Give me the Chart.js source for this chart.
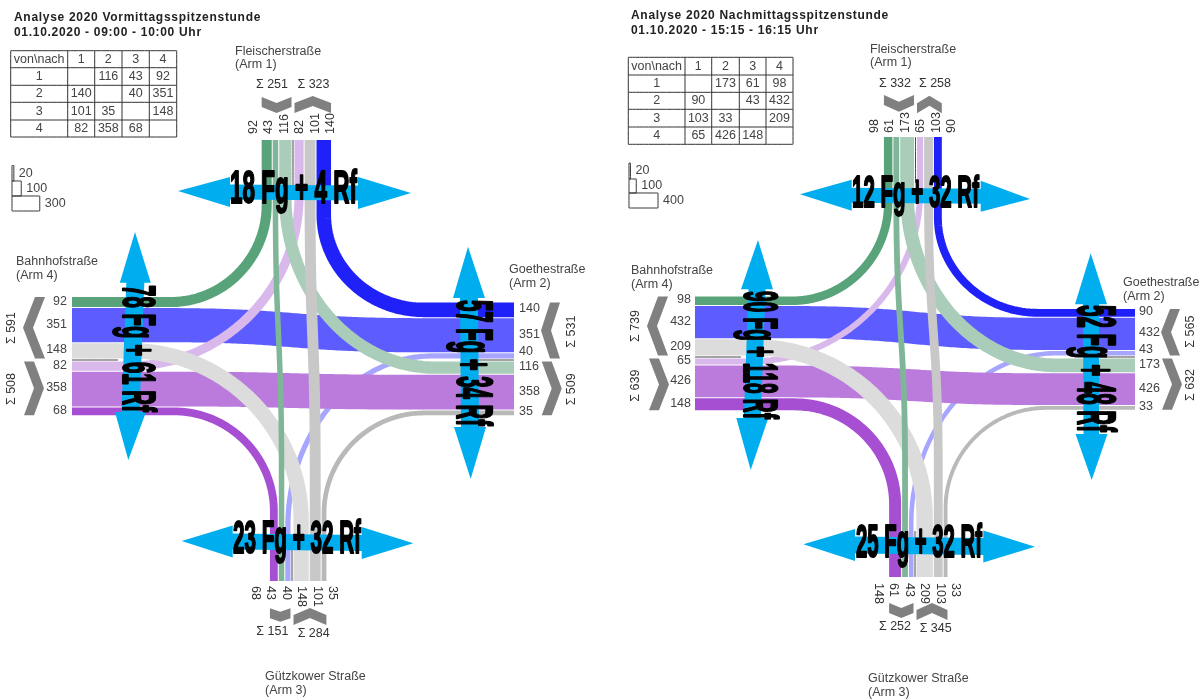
<!DOCTYPE html>
<html>
<head>
<meta charset="utf-8">
<style>
  html, body { margin: 0; padding: 0; background: #fff; }
  canvas { display: block; }
</style>
<script src="https://cdn.jsdelivr.net/npm/chart.js@4"></script>
</head>
<body>
<canvas id="myChart" width="1203" height="699"></canvas>
<script>
// von\nach values, one row per arm
const amFrom1 = [null, 116, 43, 92];
const amFrom2 = [140, null, 40, 351];
const amFrom3 = [101, 35, null, 148];
const amFrom4 = [82, 358, 68, null];
const pmFrom1 = [null, 173, 61, 98];
const pmFrom2 = [90, null, 43, 432];
const pmFrom3 = [103, 33, null, 209];
const pmFrom4 = [65, 426, 148, null];

const armNames = ['Fleischerstraße', 'Goethestraße', 'Gützkower Straße', 'Bahnhofstraße'];
const tableHead = ['von\\nach', '1', '2', '3', '4'];
const amLegend = [20, 100, 300];
const pmLegend = [20, 100, 400];
// crossing counts: arm 1, arm 2, arm 3, arm 4
const amCrossing = ['18 Fg + 4 Rf', '57 Fg + 34 Rf', '23 Fg + 32 Rf', '78 Fg + 61 Rf'];
const pmCrossing = ['12 Fg + 32 Rf', '52 Fg + 48 Rf', '25 Fg + 32 Rf', '90 Fg + 118 Rf'];

// order of the streams on each arm, [from, to], two groups either side of the divider
const armOrder = {
  1: [[[1,4],[1,3],[1,2]], [[4,1],[3,1],[2,1]]],
  2: [[[2,1],[2,4],[2,3]], [[1,2],[4,2],[3,2]]],
  3: [[[4,3],[1,3],[2,3]], [[3,4],[3,1],[3,2]]],
  4: [[[1,4],[2,4],[3,4]], [[4,1],[4,2],[4,3]]]
};
const flowColors = {
  '1-4':'#58a379', '1-3':'#80b698', '1-2':'#a9cdb8',
  '4-1':'#d9b8ec', '3-1':'#c8c8c8', '2-1':'#2020f8',
  '2-4':'#5c5cff', '2-3':'#a6a6ff', '3-4':'#dcdcdc',
  '3-2':'#b9b9b9', '4-2':'#bb7bdc', '4-3':'#a64fd3'
};
// back to front
const drawOrder = ['2-3','2-4','4-2','3-2','4-3','4-1','1-4','2-1','1-2','3-4','1-3','3-1'];
// bend length along the horizontal and the vertical leg
const bends = {
  '1-4':[96,97], '4-1':[170,170], '1-2':[150,170], '2-1':[100,95],
  '3-4':[170,170], '4-3':[100,100], '2-3':[145,170], '3-2':[100,100]
};
const GREY = '#808080', CYAN = '#00aeef', INK = '#444444';
const FONT = '12.5px "Liberation Sans"';

const panels = [
  {
    rows: [amFrom1, amFrom2, amFrom3, amFrom4], legend: amLegend, crossing: amCrossing,
    title: ['Analyse 2020 Vormittagsspitzenstunde', '01.10.2020 - 09:00 - 10:00 Uhr'], titleX: 14, titleY: [18, 33],
    edge: {1:140, 2:514, 3:581, 4:72}, sep: {1:293, 2:360, 3:292, 4:360},
    perUnit: 0.093, base: 1.5,
    tableX: [10.7, 67.7, 94.7, 122, 149.3, 176.7], tableY: [50.7, 67.7, 85.3, 102.3, 120, 137],
    legendX: 12, legendY: [165.5, 181, 196, 211], legendUnit: 0.0925,
    chevrons: {1:[[97,6],[103,-7]], 2:[[550,-9],[541.7,10]], 3:[[608.3,3.5],[615,-7]], 4:[[35,-12],[24,10]]},
    labelMid: {1:292, 3:294}, labelEdge: {1:134, 2:519, 3:586, 4:67},
    names: {1:[235,51.5,64.5], 2:[509,270,284], 3:[265,676.5,690.5], 4:[16,262,275.5]},
    sums: {1:[[272,85],[313.5,84.5]], 2:[[571.7,331.7],[571.7,389.3]], 3:[[272.3,631.7],[313.7,633.7]], 4:[[11.7,328],[11.7,389]]},
    arrows: {
      1:[[178,191],[230,192,15],[358,193,16],[411,193],7.5],
      2:[[468,246.7],[469,298,16],[470,427,16],[470.7,479],9],
      3:[[181.7,541],[232.7,541.5,16],[361.7,543,16],[413.3,543.3],8],
      4:[[135,232],[135.3,282.7,15.5],[130.5,412,15.5],[128.3,460],9]
    },
    // start of text, end of text, baseline, cap height
    big: {1:[230,358,203,35], 2:[300,427,457,38], 3:[233,362,553,35], 4:[285,413,123,35]}
  },
  {
    rows: [pmFrom1, pmFrom2, pmFrom3, pmFrom4], legend: pmLegend, crossing: pmCrossing,
    title: ['Analyse 2020 Nachmittagsspitzenstunde', '01.10.2020 - 15:15 - 16:15 Uhr'], titleX: 631, titleY: [16, 31],
    edge: {1:137, 2:1135, 3:577, 4:695}, sep: {1:915.5, 2:357, 3:915, 4:357},
    perUnit: 0.071, base: 1.5,
    tableX: [628.3, 685, 711.7, 739.3, 766, 793], tableY: [57.3, 75, 92.3, 109.3, 127, 144.3],
    legendX: 629, legendY: [163, 179, 193, 208], legendUnit: 0.0725,
    chevrons: {1:[[95,6.7],[103.3,-7.5]], 2:[[1170,-9],[1162,10]], 3:[[603,5],[610,-7]], 4:[[658,-11],[649,10]]},
    labelMid: {1:913, 3:917}, labelEdge: {1:133, 2:1139, 3:583, 4:691},
    names: {1:[870,49.5,63], 2:[1123,283,296.7], 3:[868,679,692.7], 4:[631,271,284.7]},
    sums: {1:[[895,83.7],[935,84]], 2:[[1190.7,331.7],[1190.7,385]], 3:[[895,627],[935.7,629]], 4:[[636,326],[636,385.7]]},
    arrows: {
      1:[[800,194.3],[851.7,195.3,15.5],[980.7,196.3,15.5],[1030,199],7.5],
      2:[[1090.7,253.3],[1091,304.3,16],[1091.5,434,16],[1091.7,480],8],
      3:[[803.3,544.3],[855,545,16],[983.3,546.5,16],[1035,546.7],8.5],
      4:[[758,240],[757,289.3,16],[752.3,418,16],[750.7,470],8.5]
    },
    big: {1:[852,980,206.7,34], 2:[305,433,1078,40], 3:[856,983,557,35], 4:[291,420,744,36]}
  }
];

const datasets = [];
const texts = [];
let seq = 0;

function addLine(points, color, width) {
  // small tension keeps chart.js off its fast path, which only suits lines running left to right
  datasets.push({ data: points, showLine: true, pointRadius: 0, borderColor: color, borderWidth: width,
    borderCapStyle: 'butt', borderJoinStyle: 'round', fill: false, tension: 0.001, clip: false, order: -(seq++) });
}
function addShape(points, color) {
  datasets.push({ data: points, showLine: true, pointRadius: 0, borderWidth: 0, backgroundColor: color,
    fill: 'shape', tension: 0, clip: false, order: -(seq++) });
}
function addText(t, x, y, font, color, align, rot, spacing) {
  texts.push({ t, x, y, font, color, align: align || 'left', rot: rot || 0, spacing: spacing || '0px' });
}
function bezier(p0, p1, p2, p3) {
  const out = [];
  for (let i = 0; i <= 40; i++) {
    const s = i / 40, r = 1 - s;
    out.push({
      x: r*r*r*p0.x + 3*r*r*s*p1.x + 3*r*s*s*p2.x + s*s*s*p3.x,
      y: r*r*r*p0.y + 3*r*r*s*p1.y + 3*r*s*s*p2.y + s*s*s*p3.y
    });
  }
  return out;
}

function drawPanel(p) {
  const value = (a, b) => p.rows[a-1][b-1];
  const width = v => v * p.perUnit + p.base;
  const pos = {}, extent = {};

  // stack the streams outwards from the divider of each arm
  [1,2,3,4].forEach(arm => {
    pos[arm] = {};
    const [groupA, groupB] = armOrder[arm];
    let c = p.sep[arm] - 1.5;
    const endA = c;
    [...groupA].reverse().forEach(f => {
      const w = width(value(f[0], f[1]));
      pos[arm][f.join('-')] = c - w/2;
      c -= w + 1;
    });
    const startA = c + 1;
    c = p.sep[arm] + 1.5;
    const startB = c;
    groupB.forEach(f => {
      const w = width(value(f[0], f[1]));
      pos[arm][f.join('-')] = c + w/2;
      c += w + 1;
    });
    extent[arm] = [[startA, endA], [startB, c - 1]];
  });

  const point = (arm, at, cross) => (arm === 1 || arm === 3) ? {x: cross, y: at} : {x: at, y: cross};
  const isVert = arm => arm === 1 || arm === 3;

  drawOrder.forEach(key => {
    const [a, b] = key.split('-').map(Number);
    const w = width(value(a, b));
    const ca = pos[a][key], cb = pos[b][key];
    let pts;
    if (isVert(a) === isVert(b)) {
      // through movement
      const A = point(a, p.edge[a], ca), B = point(b, p.edge[b], cb);
      const v = isVert(a);
      const mid = v ? (p.edge[1] + p.edge[3]) / 2 - 25 : (p.edge[2] + p.edge[4]) / 2;
      const reach = v ? 135 : 125;
      const sa = p.edge[a] < mid ? -reach : reach, sb = p.edge[b] < mid ? -reach : reach;
      const A1 = point(a, mid + sa, ca), B1 = point(b, mid + sb, cb);
      const A2 = point(a, mid, ca), B2 = point(b, mid, cb);
      pts = [A, ...bezier(A1, A2, B2, B1), B];
    } else {
      const h = isVert(a) ? b : a, vt = isVert(a) ? a : b;
      const [rx, ry] = bends[key];
      const cx = pos[vt][key], cy = pos[h][key];
      const hd = p.edge[h] < cx ? -1 : 1, vd = p.edge[vt] < cy ? -1 : 1;
      const q = 0.45;
      pts = [
        {x: p.edge[h], y: cy},
        ...bezier({x: cx + hd*rx, y: cy}, {x: cx + hd*rx*q, y: cy}, {x: cx, y: cy + vd*ry*q}, {x: cx, y: cy + vd*ry}),
        {x: cx, y: p.edge[vt]}
      ];
    }
    addLine(pts, flowColors[key], w);
  });

  // dividers between the two directions
  const dv = 46;
  addLine([{x:p.sep[1], y:p.edge[1]}, {x:p.sep[1], y:p.edge[1]+dv}], INK, 1);
  addLine([{x:p.sep[3], y:p.edge[3]}, {x:p.sep[3], y:p.edge[3]-dv}], INK, 1);
  addLine([{x:p.edge[4], y:p.sep[4]}, {x:p.edge[4]+dv, y:p.sep[4]}], INK, 1);
  addLine([{x:p.edge[2], y:p.sep[2]}, {x:p.edge[2]-dv, y:p.sep[2]}], INK, 1);

  // chevrons span the stream groups
  [1,2,3,4].forEach(arm => {
    [0,1].forEach(g => {
      const [s, e] = extent[arm][g];
      const [n, d] = p.chevrons[arm][g];
      const m = (s + e) / 2, t = 10;
      addShape([point(arm,n,s), point(arm,n+d,m), point(arm,n,e), point(arm,n+t,e), point(arm,n+t+d,m), point(arm,n+t,s)], GREY);
    });
  });

  // crossing arrows and their counts
  [1,2,3,4].forEach(arm => {
    const [t1, b1, b2, t2, sh] = p.arrows[arm];
    const v = isVert(arm);
    let poly;
    if (v) {
      poly = [{x:t1[0],y:t1[1]}, {x:b1[0],y:b1[1]-b1[2]}, {x:b1[0],y:b1[1]-sh}, {x:b2[0],y:b2[1]-sh}, {x:b2[0],y:b2[1]-b2[2]},
        {x:t2[0],y:t2[1]}, {x:b2[0],y:b2[1]+b2[2]}, {x:b2[0],y:b2[1]+sh}, {x:b1[0],y:b1[1]+sh}, {x:b1[0],y:b1[1]+b1[2]}];
    } else {
      poly = [{x:t1[0],y:t1[1]}, {x:b1[0]-b1[2],y:b1[1]}, {x:b1[0]-sh,y:b1[1]}, {x:b2[0]-sh,y:b2[1]}, {x:b2[0]-b2[2],y:b2[1]},
        {x:t2[0],y:t2[1]}, {x:b2[0]+b2[2],y:b2[1]}, {x:b2[0]+sh,y:b2[1]}, {x:b1[0]+sh,y:b1[1]}, {x:b1[0]+b1[2],y:b1[1]}];
    }
    addShape(poly, CYAN);
    const [from, to, base, cap] = p.big[arm];
    texts.push({ big: true, t: p.crossing[arm-1], from, to, base, cap, side: v });
  });

  // table
  p.tableX.forEach(x => addLine([{x, y:p.tableY[0]}, {x, y:p.tableY[5]}], '#333', 1));
  p.tableY.forEach(y => addLine([{x:p.tableX[0], y}, {x:p.tableX[5], y}], '#333', 1));
  const cell = (t, c, r) => addText(t, (p.tableX[c]+p.tableX[c+1])/2, (p.tableY[r]+p.tableY[r+1])/2, FONT, '#444', 'center');
  tableHead.forEach((t, c) => cell(t, c, 0));
  p.rows.forEach((row, r) => {
    cell(String(r+1), 0, r+1);
    row.forEach((v, c) => { if (v !== null) cell(String(v), c+1, r+1); });
  });

  // scale legend
  p.legend.forEach((v, i) => {
    const x0 = p.legendX, x1 = x0 + v * p.legendUnit, y0 = p.legendY[i], y1 = p.legendY[i+1];
    addLine([{x:x0,y:y0},{x:x1,y:y0},{x:x1,y:y1},{x:x0,y:y1},{x:x0,y:y0}], '#333', 1);
    addText(String(v), x1 + 5, (y0+y1)/2, FONT, '#444');
  });

  // titles, arm names, sums
  p.title.forEach((t, i) => addText(t, p.titleX, p.titleY[i], 'bold 12px "Liberation Sans"', '#222', 'left', 0, '0.7px'));
  [1,2,3,4].forEach(arm => {
    const [nx, ny1, ny2] = p.names[arm];
    addText(armNames[arm-1], nx, ny1, FONT, '#444');
    addText('(Arm ' + arm + ')', nx, ny2, FONT, '#444');
    armOrder[arm].forEach((grp, g) => {
      const sum = grp.reduce((acc, f) => acc + value(f[0], f[1]), 0);
      const [sx, sy] = p.sums[arm][g];
      addText('Σ ' + sum, sx, sy, FONT, '#333', 'center', isVert(arm) ? 0 : -Math.PI/2);
    });
    // stream counts
    const flows = armOrder[arm][0].concat(armOrder[arm][1]);
    flows.forEach((f, i) => {
      const key = f.join('-'), v = String(value(f[0], f[1]));
      if (arm === 1) addText(v, p.labelMid[1] + (i-2.5)*15.4, p.labelEdge[1], FONT, '#333', 'left', -Math.PI/2);
      if (arm === 3) addText(v, p.labelMid[3] + (i-2.5)*15.4, p.labelEdge[3], FONT, '#333', 'left', Math.PI/2);
      const nudge = value(f[0], f[1]) < 50 && i === 2 ? -3 : 0;
      if (arm === 4) addText(v, p.labelEdge[4], pos[4][key] - 1 + nudge, FONT, '#444', 'right');
      if (arm === 2) addText(v, p.labelEdge[2], pos[2][key] - 1 + nudge, FONT, '#444', 'left');
    });
  });
}

panels.forEach(drawPanel);

const textPlugin = {
  id: 'textPlugin',
  afterDatasetsDraw(chart) {
    const ctx = chart.ctx, xs = chart.scales.x, ys = chart.scales.y;
    texts.forEach(o => {
      ctx.save();
      ctx.fillStyle = o.color || '#000';
      if (o.big) {
        // tall squeezed crossing counts, stroked to get the heavy look
        ctx.font = 'bold 40px "Liberation Sans"';
        ctx.textAlign = 'left';
        ctx.textBaseline = 'alphabetic';
        const sx = (o.to - o.from - 1) / ctx.measureText(o.t).width;
        const sy = (o.cap - 1) / (40 * 0.729);
        if (o.side) {
          ctx.translate(xs.getPixelForValue(o.from), ys.getPixelForValue(o.base));
        } else {
          ctx.translate(xs.getPixelForValue(o.base), ys.getPixelForValue(o.from));
          ctx.rotate(Math.PI / 2);
        }
        ctx.scale(sx, sy);
        ctx.strokeStyle = '#000';
        ctx.lineWidth = 1.8;
        ctx.lineJoin = 'round';
        ctx.strokeText(o.t, 0, 0);
        ctx.fillText(o.t, 0, 0);
      } else {
        ctx.font = o.font;
        ctx.letterSpacing = o.spacing;
        ctx.textAlign = o.align;
        ctx.textBaseline = 'middle';
        ctx.translate(xs.getPixelForValue(o.x), ys.getPixelForValue(o.y));
        if (o.rot) ctx.rotate(o.rot);
        ctx.fillText(o.t, 0, 0);
      }
      ctx.restore();
    });
  }
};

new Chart(document.getElementById('myChart').getContext('2d'), {
  type: 'scatter',
  data: { datasets },
  plugins: [textPlugin],
  options: {
    responsive: false,
    animation: false,
    layout: { padding: 0 },
    plugins: { legend: { display: false }, tooltip: { enabled: false } },
    scales: {
      x: { type: 'linear', min: 0, max: 1203, display: false },
      y: { type: 'linear', min: 0, max: 699, reverse: true, display: false }
    }
  }
});
</script>
</body>
</html>
